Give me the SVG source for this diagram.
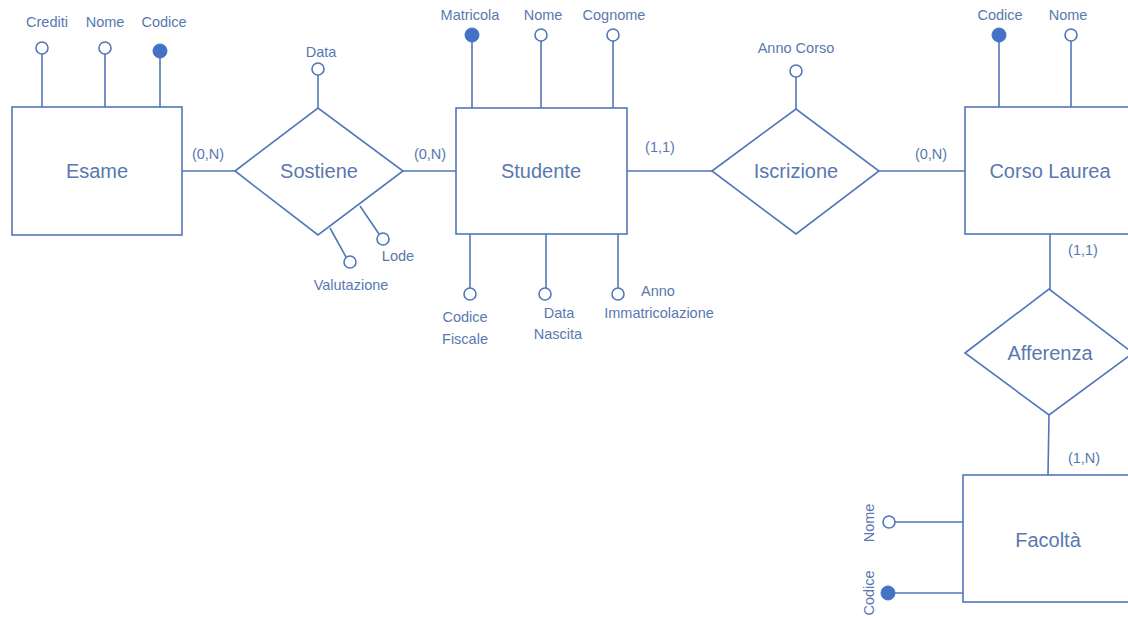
<svg xmlns="http://www.w3.org/2000/svg" width="1128" height="620" viewBox="0 0 1128 620">
<style>
.box{fill:#fff;stroke:#5277b8;stroke-width:1.6}
.ln{stroke:#5277b8;stroke-width:1.6;fill:none}
.oc{fill:#fff;stroke:#5277b8;stroke-width:1.6}
.fc{fill:#4472c4;stroke:#4472c4;stroke-width:1}
.t{font-family:"Liberation Sans",Arial,sans-serif;fill:#5a78b0;text-anchor:middle}
.big{font-size:20px}
.sm{font-size:14.5px}
.cd{font-size:14.5px}
</style>
<rect width="1128" height="620" fill="#fff"/>
<g id="connectors">
<line class="ln" x1="182" y1="171" x2="235" y2="171"/>
<line class="ln" x1="403" y1="171" x2="456" y2="171"/>
<line class="ln" x1="627" y1="171" x2="712" y2="171"/>
<line class="ln" x1="879" y1="171" x2="965" y2="171"/>
<line class="ln" x1="1050" y1="234" x2="1050" y2="290"/>
<line class="ln" x1="1049" y1="415" x2="1048" y2="475"/>
<text class="t cd" x="208" y="159">(0,N)</text>
<text class="t cd" x="430" y="159">(0,N)</text>
<text class="t cd" x="660" y="152">(1,1)</text>
<text class="t cd" x="931" y="159">(0,N)</text>
<text class="t cd" x="1083" y="255">(1,1)</text>
<text class="t cd" x="1084" y="463">(1,N)</text>
</g>
<g id="esame">
<line class="ln" x1="42" y1="54" x2="42" y2="107"/>
<line class="ln" x1="105" y1="54" x2="105" y2="107"/>
<line class="ln" x1="160" y1="56" x2="160" y2="107"/>
<circle class="oc" cx="42" cy="48" r="6"/>
<circle class="oc" cx="105" cy="48" r="6"/>
<circle class="fc" cx="160" cy="51" r="7"/>
<text class="t sm" x="47" y="27">Crediti</text>
<text class="t sm" x="105" y="27">Nome</text>
<text class="t sm" x="164" y="27">Codice</text>
<rect class="box" x="12" y="107" width="170" height="128"/>
<text class="t big" x="97" y="178">Esame</text>
</g>
<g id="sostiene">
<line class="ln" x1="318" y1="75" x2="318" y2="108"/>
<circle class="oc" cx="318" cy="69" r="6"/>
<text class="t sm" x="321" y="57">Data</text>
<line class="ln" x1="360" y1="206" x2="379" y2="234"/>
<circle class="oc" cx="383" cy="239" r="6"/>
<text class="t sm" x="398" y="261">Lode</text>
<line class="ln" x1="330" y1="228" x2="346" y2="257"/>
<circle class="oc" cx="350" cy="262" r="6"/>
<text class="t sm" x="351" y="290">Valutazione</text>
<polygon class="box" points="235,171 318,108 403,171 318,235"/>
<text class="t big" x="319" y="178">Sostiene</text>
</g>
<g id="studente">
<line class="ln" x1="472" y1="41" x2="472" y2="108"/>
<line class="ln" x1="541" y1="41" x2="541" y2="108"/>
<line class="ln" x1="613" y1="41" x2="613" y2="108"/>
<circle class="fc" cx="472" cy="35" r="7"/>
<circle class="oc" cx="541" cy="35" r="6"/>
<circle class="oc" cx="613" cy="35" r="6"/>
<text class="t sm" x="470" y="20">Matricola</text>
<text class="t sm" x="543" y="20">Nome</text>
<text class="t sm" x="614" y="20">Cognome</text>
<line class="ln" x1="470" y1="234" x2="470" y2="288"/>
<line class="ln" x1="546" y1="234" x2="546" y2="288"/>
<line class="ln" x1="618" y1="234" x2="618" y2="288"/>
<circle class="oc" cx="470" cy="294" r="6"/>
<circle class="oc" cx="545" cy="294" r="6"/>
<circle class="oc" cx="618" cy="294" r="6"/>
<text class="t sm" x="465" y="322">Codice</text>
<text class="t sm" x="465" y="344">Fiscale</text>
<text class="t sm" x="559" y="318">Data</text>
<text class="t sm" x="558" y="339">Nascita</text>
<text class="t sm" x="658" y="296">Anno</text>
<text class="t sm" x="659" y="318">Immatricolazione</text>
<rect class="box" x="456" y="108" width="171" height="126"/>
<text class="t big" x="541" y="178">Studente</text>
</g>
<g id="iscrizione">
<line class="ln" x1="796" y1="77" x2="796" y2="109"/>
<circle class="oc" cx="796" cy="71" r="6"/>
<text class="t sm" x="796" y="53">Anno Corso</text>
<polygon class="box" points="712,171 796,109 879,171 796,234"/>
<text class="t big" x="796" y="178">Iscrizione</text>
</g>
<g id="corso-laurea">
<line class="ln" x1="999" y1="41" x2="999" y2="107"/>
<line class="ln" x1="1071" y1="41" x2="1071" y2="107"/>
<circle class="fc" cx="999" cy="35" r="7"/>
<circle class="oc" cx="1071" cy="35" r="6"/>
<text class="t sm" x="1000" y="20">Codice</text>
<text class="t sm" x="1068" y="20">Nome</text>
<rect class="box" x="965" y="107" width="180" height="127"/>
<text class="t big" x="1050" y="178">Corso Laurea</text>
</g>
<g id="afferenza">
<polygon class="box" points="965,353 1049,289 1133,353 1049,415"/>
<text class="t big" x="1050" y="360">Afferenza</text>
</g>
<g id="facolta">
<line class="ln" x1="895" y1="522" x2="963" y2="522"/>
<line class="ln" x1="895" y1="593" x2="963" y2="593"/>
<circle class="oc" cx="889" cy="522" r="6"/>
<circle class="fc" cx="888" cy="593" r="7"/>
<text class="t sm" transform="translate(874,523) rotate(-90)">Nome</text>
<text class="t sm" transform="translate(874,593) rotate(-90)">Codice</text>
<rect class="box" x="963" y="475" width="180" height="127"/>
<text class="t big" x="1048" y="547">Facoltà</text>
</g>
</svg>
